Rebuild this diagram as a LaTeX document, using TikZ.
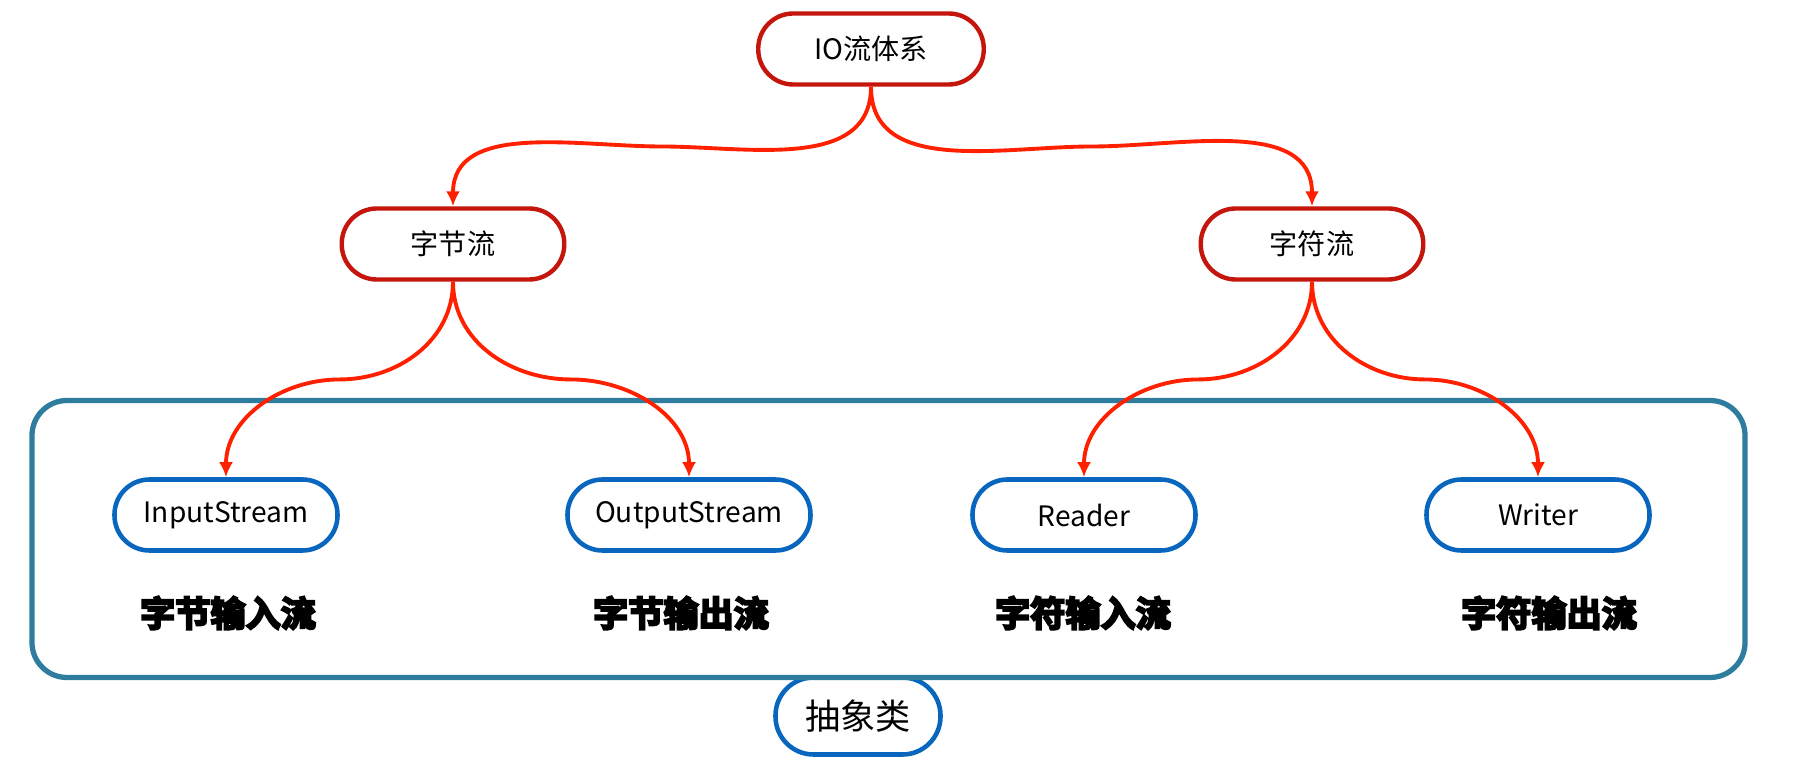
\documentclass[tikz,border=0pt]{standalone}
\usepackage{fontspec}
\usepackage{xcolor}
\setmainfont{Noto Sans CJK SC}
\newfontfamily\heavyfont{Noto Sans CJK SC}[UprightFont=* Bold, UprightFeatures={FakeBold=6}]
\usetikzlibrary{positioning,calc,arrows.meta}
\definecolor{nodered}{RGB}{196,22,12}
\definecolor{arrowred}{RGB}{255,32,0}
\definecolor{nodeblue}{RGB}{8,102,190}
\definecolor{boxteal}{RGB}{46,125,158}
\tikzset{
  basic/.style    = {draw, fill=white, rectangle, rounded corners=7mm,
                     align=center, font=\fontsize{16}{19}\selectfont},
  root/.style     = {basic, draw=nodered, line width=2.5pt,
                     minimum width=44.5mm, minimum height=14.2mm},
  abstract/.style = {basic, draw=nodeblue, line width=2.6pt,
                     minimum width=44.6mm, minimum height=14.2mm},
  tag/.style      = {inner sep=0pt, font=\heavyfont\fontsize{20}{24}\selectfont},
  group/.style    = {draw=boxteal, line width=3pt, rounded corners=7mm},
  link/.style     = {draw=arrowred, line width=2.2pt,
                     -{Latex[length=3mm,width=2.8mm]}}
}

\begin{document}
\begin{tikzpicture}[x=0.2mm, y=0.2mm]
\useasboundingbox (0,0) rectangle (1802,763);

% caption under the frame, drawn first so the frame covers its top
\node[abstract, minimum width=33mm, minimum height=15.4mm, rounded corners=7.6mm,
      font=\fontsize{20}{24}\selectfont] (abs) at (858,47) {抽象类};
\node[group, minimum width=342.6mm, minimum height=55.4mm] (frame) at (888.5,224) {};

% root and the first level
\node[root, minimum width=45.1mm] (io) at (871,714) {IO流体系};
\node[root] (byte) at (453,519) {字节流};
\node[root] (char) at (1312,519) {字符流};

% the abstract classes, with their names below
\node[abstract] (inp) at (226,248) {InputStream};
\node[abstract, minimum width=48.6mm] (outp) at (689,248) {OutputStream};
\node[abstract] (reader) at (1084,248) {Reader};
\node[abstract] (writer) at (1538,248) {Writer};

\node[tag] (inptag) at (228,150) {字节输入流};
\node[tag] (outptag) at (681,150) {字节输出流};
\node[tag] (readertag) at (1083,150) {字符输入流};
\node[tag] (writertag) at (1549,150) {字符输出流};

% curved links, flat in the middle
\foreach \from/\to/\dir in {io/byte/0, io/char/180, byte/inp/0,
                            byte/outp/180, char/reader/0, char/writer/180}
  \draw[link] (\from.south) to[out=-90, in=\dir]
    ($(\from.south)!.5!(\to.north)$) to[out=\dir+180, in=90] (\to.north);
\end{tikzpicture}
\end{document}
